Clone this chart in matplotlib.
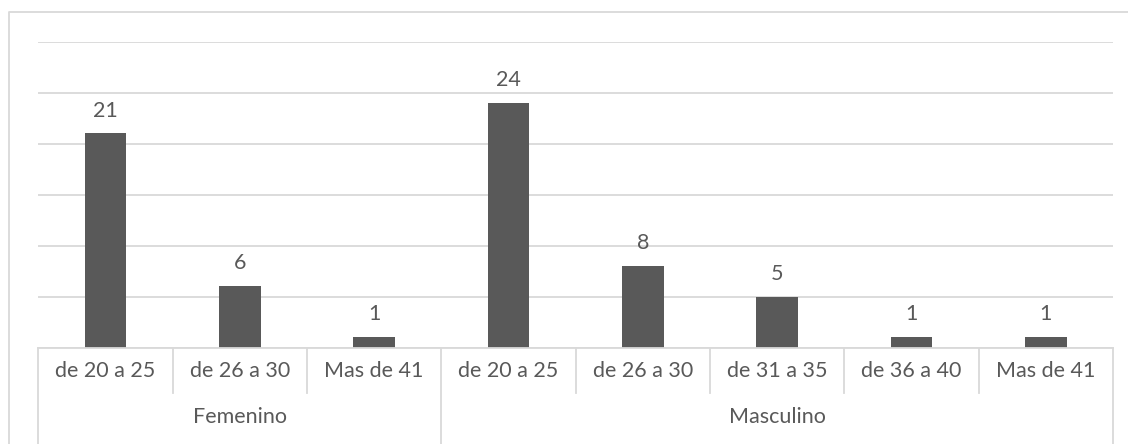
import numpy as np
import matplotlib
matplotlib.use("Agg")
from matplotlib import pyplot as plt
from matplotlib.lines import Line2D

# data
groups = ["Femenino", "Masculino"]
group_sizes = [3, 5]
categories = ["de 20 a 25", "de 26 a 30", "Mas de 41",
              "de 20 a 25", "de 26 a 30", "de 31 a 35", "de 36 a 40", "Mas de 41"]
values = [21, 6, 1, 24, 8, 5, 1, 1]

W, H = 1128, 444
bar_color = "#595959"
grid_color = "#d9d9d9"
text_color = "#595959"
fs = 15.5

plt.rcParams['font.family'] = ['Lato', 'DejaVu Sans']

fig = plt.figure(figsize=(W / 100, H / 100), dpi=100)
left, right = 38.3 / W, 1113 / W
bottom, top = (H - 347.5) / H, (H - 41.7) / H
ax = fig.add_axes([left, bottom, right - left, top - bottom])

x = np.arange(len(categories))
bars = ax.bar(x, values, width=0.31, color=bar_color, zorder=3)
ax.set_xlim(-0.5, len(categories) - 0.5)
ax.set_ylim(0, 30)
ax.set_yticks(np.arange(0, 31, 5))
ax.yaxis.grid(True, color=grid_color, linewidth=1.3)
ax.set_axisbelow(True)
for s in ax.spines.values():
    s.set_visible(False)
ax.tick_params(left=False, bottom=False, labelleft=False, labelbottom=False)

for b, v in zip(bars, values):
    ax.annotate(str(v), (b.get_x() + b.get_width() / 2, v), xytext=(0, 16.5),
                textcoords="offset points", ha="center", va="center",
                fontsize=fs, color=text_color)

# category axis (two levels)
inner_y = (H - 393) / H
fig.add_artist(Line2D([left, right], [bottom, bottom], transform=fig.transFigure,
                      color=grid_color, linewidth=1.3))
for i, lab in enumerate(categories):
    xc = left + (i + 0.5) * (right - left) / len(categories)
    fig.text(xc, (H - 371) / H, lab, ha="center", va="center",
             fontsize=fs, color=text_color)

bounds = np.concatenate([[0], np.cumsum(group_sizes)])
for k in range(len(categories) + 1):
    xf = left + k * (right - left) / len(categories)
    y_end = 0 if k in bounds else inner_y
    fig.add_artist(Line2D([xf, xf], [bottom, y_end], transform=fig.transFigure,
                          color=grid_color, linewidth=1.3))
for g, a, b in zip(groups, bounds[:-1], bounds[1:]):
    xc = left + (a + b) / 2 * (right - left) / len(categories)
    fig.text(xc, (H - 417) / H, g, ha="center", va="center",
             fontsize=fs, color=text_color)

# outer chart border
fig.add_artist(Line2D([8.5 / W, 8.5 / W, 1.0], [0, (H - 12) / H, (H - 12) / H],
                      transform=fig.transFigure, color=grid_color, linewidth=1.3))

fig.savefig("out.png", dpi=100, facecolor="white")
